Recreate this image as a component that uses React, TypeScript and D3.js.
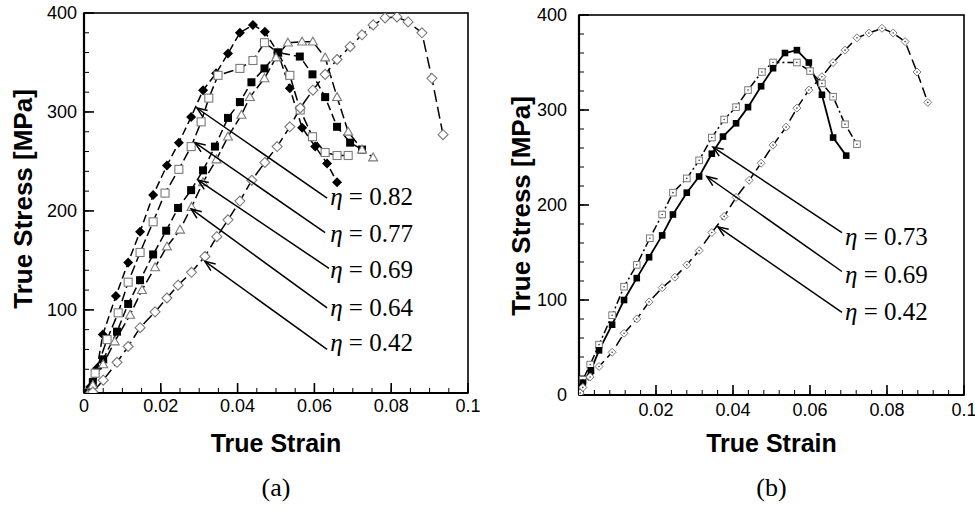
import React from 'react';
import * as d3 from 'd3';

type P = [number, number];

// ---------- Panel (a) data: [true strain, true stress MPa] ----------
const a082: P[] = [[0.001,16],[0.0016,22],[0.0034,41],[0.0049,75],[0.0083,114],[0.0115,148],[0.0146,179],[0.018,216],[0.0216,246],[0.0247,269],[0.0279,295],[0.031,322],[0.0344,339],[0.0375,359],[0.0406,380],[0.044,388],[0.0471,381],[0.0505,360],[0.0536,324],[0.0568,284],[0.0602,265],[0.0633,248],[0.0659,229]];
const a077: P[] = [[0.001,16],[0.0029,36],[0.006,70],[0.0089,97],[0.0115,128],[0.0146,158],[0.018,189],[0.0211,218],[0.0247,242],[0.0279,265],[0.0305,290],[0.0325,314],[0.0349,337],[0.0406,344],[0.044,352],[0.047,370],[0.0505,360],[0.0536,337],[0.0563,302],[0.0595,275],[0.0628,259],[0.0659,256],[0.0688,256]];
const a069: P[] = [[0.001,16],[0.0023,27],[0.005,50],[0.0086,78],[0.0115,106],[0.0146,130],[0.018,156],[0.0214,180],[0.0245,203],[0.0279,221],[0.031,241],[0.0341,265],[0.0375,294],[0.0406,310],[0.0436,330],[0.047,344],[0.0505,360],[0.0562,356],[0.0595,338],[0.0628,315],[0.0659,285],[0.0693,269],[0.0724,262]];
const a064: P[] = [[0.001,15],[0.0023,24],[0.005,45],[0.008,68],[0.012,95],[0.0151,120],[0.0185,143],[0.0216,164],[0.025,181],[0.028,204],[0.031,229],[0.0345,252],[0.0375,275],[0.041,297],[0.0432,315],[0.047,334],[0.05,355],[0.0531,370],[0.0568,371],[0.0596,371],[0.0628,355],[0.0659,315],[0.0688,280],[0.0724,262],[0.0753,254]];
const a042: P[] = [[0.0023,17],[0.005,29],[0.0086,47],[0.0115,63],[0.0146,82],[0.0185,98],[0.0216,112],[0.0245,125],[0.028,138],[0.0315,154],[0.0346,174],[0.0375,191],[0.0406,210],[0.0437,231],[0.0471,249],[0.0503,265],[0.0536,285],[0.0563,304],[0.0596,322],[0.0628,338],[0.0659,353],[0.0693,366],[0.0724,378],[0.0753,388],[0.0784,395],[0.0815,396],[0.0844,391],[0.088,380],[0.0906,334],[0.0935,277]];

const leftEta = ['0.82', '0.77', '0.69', '0.64', '0.42'];
const leftTips: P[] = [[0.0294,304],[0.0289,269],[0.0297,231],[0.0279,202],[0.0315,149]];
const leftEnds: P[] = [[0.0633,213],[0.0628,178],[0.0638,142],[0.0633,102],[0.0633,60]];
const leftLabelStress = [206, 169, 132, 94, 58];
const leftLabelStrain = 0.0641;

// ---------- Panel (b) data ----------
const b073: P[] = [[0.0003,3],[0.001,16],[0.0029,32],[0.0052,53],[0.0086,84],[0.0117,114],[0.015,137],[0.0184,165],[0.0216,190],[0.0244,213],[0.028,228],[0.0312,247],[0.0345,271],[0.0377,290],[0.0408,303],[0.0439,321],[0.0475,340],[0.0504,350],[0.0566,350],[0.06,341],[0.0631,328],[0.066,314],[0.0691,285],[0.0722,264]];
const b069: P[] = [[0.0003,3],[0.001,13],[0.0031,26],[0.0052,47],[0.0086,74],[0.0117,100],[0.015,123],[0.0182,145],[0.0216,168],[0.0244,190],[0.028,213],[0.0312,230],[0.0345,254],[0.0374,272],[0.0408,286],[0.0439,303],[0.0473,325],[0.0504,344],[0.0535,360],[0.0566,363],[0.0597,350],[0.0631,316],[0.066,271],[0.0694,252]];
const b042: P[] = [[0.0003,2],[0.001,8],[0.0029,19],[0.0052,30],[0.0086,45],[0.0117,65],[0.015,80],[0.0182,98],[0.0216,113],[0.0249,124],[0.028,137],[0.0312,152],[0.0345,171],[0.0377,188],[0.0408,208],[0.0442,226],[0.0473,244],[0.0504,263],[0.0538,282],[0.0566,302],[0.0597,321],[0.0631,335],[0.066,350],[0.0691,363],[0.0722,376],[0.0753,381],[0.0787,386],[0.0816,381],[0.0847,372],[0.0878,340],[0.0906,308]];

const rightEta = ['0.73', '0.69', '0.42'];
const rightTips: P[] = [[0.0348,261],[0.0332,230],[0.0361,177]];
const rightEnds: P[] = [[0.0683,171],[0.0683,130],[0.0683,87]];
const rightLabelStress = [158, 118, 79];
const rightLabelStrain = 0.0691;

const xTicksLeft = [0, 0.02, 0.04, 0.06, 0.08, 0.1];
const xTicksRight = [0.02, 0.04, 0.06, 0.08, 0.1];
const yTicksLeft = [100, 200, 300, 400];
const yTicksRight = [0, 100, 200, 300, 400];

type Marker = 'fdiamond' | 'odiamond' | 'fsquare' | 'osquare' | 'otriangle' | 'dsquare' | 'ddiamond';

interface Series { data: P[]; marker: Marker; dash: string; size: number; }

function markerEl(m: Marker, x: number, y: number, r: number, key: string | number) {
  const gray = '#7a7a7a';
  if (m === 'fdiamond') return <path key={key} d={`M${x},${y - r}L${x + r},${y}L${x},${y + r}L${x - r},${y}Z`} fill="#000" />;
  if (m === 'odiamond') return <path key={key} d={`M${x},${y - r}L${x + r},${y}L${x},${y + r}L${x - r},${y}Z`} fill="#fff" stroke={gray} strokeWidth={1.1} />;
  if (m === 'ddiamond') return <g key={key}><path d={`M${x},${y - r}L${x + r},${y}L${x},${y + r}L${x - r},${y}Z`} fill="#fff" stroke={gray} strokeWidth={1} /><circle cx={x} cy={y} r={0.8} fill="#333" /></g>;
  if (m === 'fsquare') return <rect key={key} x={x - r} y={y - r} width={2 * r} height={2 * r} fill="#000" />;
  if (m === 'osquare') return <rect key={key} x={x - r} y={y - r} width={2 * r} height={2 * r} fill="#fff" stroke={gray} strokeWidth={1.1} />;
  if (m === 'dsquare') return <g key={key}><rect x={x - r} y={y - r} width={2 * r} height={2 * r} fill="#fff" stroke={gray} strokeWidth={1} /><circle cx={x} cy={y} r={0.8} fill="#333" /></g>;
  return <path key={key} d={`M${x},${y - r}L${x + r},${y + r * 0.75}L${x - r},${y + r * 0.75}Z`} fill="#fff" stroke={gray} strokeWidth={1.1} />;
}

interface PanelProps {
  x0: number; x1: number; yTop: number; yBot: number; yMin: number;
  series: Series[]; xTicks: number[]; yTicks: number[]; xMinorStep: number;
  tips: P[]; ends: P[]; labelStress: number[]; labelStrain: number; eta: string[];
  yTitleX: number; yTitleY: number; cap: string; xLabelGap: number; yLabelGap: number;
  lineWidth: number[];
}

function Panel(p: PanelProps) {
  const x = d3.scaleLinear().domain([0, 0.1]).range([p.x0, p.x1]);
  const y = d3.scaleLinear().domain([p.yMin, 400]).range([p.yBot, p.yTop]);
  const line = d3.line<P>().x(d => x(d[0])).y(d => y(d[1]));
  const xMinor = d3.range(0, 0.1 + 1e-9, p.xMinorStep);
  const yMinor = d3.range(Math.ceil(p.yMin / 20) * 20, 401, 20);
  const cx = (p.x0 + p.x1) / 2;
  return (
    <g>
      <defs>
        <clipPath id={`clip${p.x0}`}><rect x={p.x0} y={p.yTop} width={p.x1 - p.x0} height={p.yBot - p.yTop} /></clipPath>
      </defs>
      {/* frame */}
      <rect x={p.x0} y={p.yTop} width={p.x1 - p.x0} height={p.yBot - p.yTop} fill="none" stroke="#000" strokeWidth={1.6} />
      <line x1={p.x0} x2={p.x0} y1={p.yTop} y2={p.yBot} stroke="#000" strokeWidth={2.2} />
      <line x1={p.x0} x2={p.x1} y1={p.yBot} y2={p.yBot} stroke="#000" strokeWidth={2.2} />
      {/* minor ticks */}
      {xMinor.map((t, i) => <line key={'xm' + i} x1={x(t)} x2={x(t)} y1={p.yBot} y2={p.yBot - 5} stroke="#000" strokeWidth={1} />)}
      {yMinor.map((t, i) => <line key={'ym' + i} x1={p.x0} x2={p.x0 + 5} y1={y(t)} y2={y(t)} stroke="#000" strokeWidth={1} />)}
      {/* major ticks */}
      {[0, 0.02, 0.04, 0.06, 0.08, 0.1].map((t, i) => <line key={'xM' + i} x1={x(t)} x2={x(t)} y1={p.yBot} y2={p.yBot - 10} stroke="#000" strokeWidth={1.6} />)}
      {[0, 100, 200, 300, 400].filter(t => t >= p.yMin).map((t, i) => <line key={'yM' + i} x1={p.x0} x2={p.x0 + 10} y1={y(t)} y2={y(t)} stroke="#000" strokeWidth={1.6} />)}
      {/* tick labels */}
      {p.xTicks.map((t, i) => (
        <text key={'xl' + i} x={x(t)} y={p.yBot + p.xLabelGap} textAnchor="middle" fontFamily="'Liberation Sans', Arial, sans-serif" fontSize={18} fill="#000">{t === 0 ? '0' : String(+t.toFixed(2))}</text>
      ))}
      {p.yTicks.map((t, i) => (
        <text key={'yl' + i} x={p.x0 - p.yLabelGap} y={y(t)} dy="0.35em" textAnchor="end" fontFamily="'Liberation Sans', Arial, sans-serif" fontSize={18} fill="#000">{t}</text>
      ))}
      {/* axis titles */}
      <text x={cx} y={452} textAnchor="middle" fontFamily="'Liberation Sans', Arial, sans-serif" fontWeight="bold" fontSize={25} fill="#000">True Strain</text>
      <text transform={`translate(${p.yTitleX},${p.yTitleY}) rotate(-90)`} textAnchor="middle" fontFamily="'Liberation Sans', Arial, sans-serif" fontWeight="bold" fontSize={26} fill="#000">True Stress [MPa]</text>
      <text x={cx} y={496} textAnchor="middle" fontFamily="'Liberation Serif', 'Times New Roman', serif" fontSize={26} fill="#000">{p.cap}</text>
      {/* curves */}
      <g clipPath={`url(#clip${p.x0})`}>
        {p.series.map((s, i) => (
          <path key={'l' + i} d={line(s.data) || ''} fill="none" stroke="#000" strokeWidth={p.lineWidth[i]} strokeDasharray={s.dash} />
        ))}
        {p.series.map((s, i) => (
          <g key={'m' + i}>{s.data.map((d, j) => markerEl(s.marker, x(d[0]), y(d[1]), s.size, j))}</g>
        ))}
      </g>
      {/* annotations */}
      {p.tips.map((t, i) => {
        const tx = x(t[0]), ty = y(t[1]);
        const ex = x(p.ends[i][0]), ey = y(p.ends[i][1]);
        const ang = Math.atan2(ey - ty, ex - tx);
        const L = 11, w = 0.38;
        const a1x = tx + L * Math.cos(ang + w), a1y = ty + L * Math.sin(ang + w);
        const a2x = tx + L * Math.cos(ang - w), a2y = ty + L * Math.sin(ang - w);
        return (
          <g key={'a' + i}>
            <line x1={ex} y1={ey} x2={tx} y2={ty} stroke="#000" strokeWidth={1.5} />
            <path d={`M${a1x},${a1y}L${tx},${ty}L${a2x},${a2y}`} fill="none" stroke="#000" strokeWidth={1.5} />
            <text x={x(p.labelStrain)} y={y(p.labelStress[i])} fontFamily="'Liberation Serif', 'Times New Roman', serif" fontSize={25} fill="#000">
              <tspan fontStyle="italic">η</tspan> = {p.eta[i]}
            </text>
          </g>
        );
      })}
    </g>
  );
}

export default function App() {
  const leftSeries: Series[] = [
    { data: a082, marker: 'fdiamond', dash: '8 4', size: 5 },
    { data: a077, marker: 'osquare', dash: '10 4', size: 4 },
    { data: a069, marker: 'fsquare', dash: '8 4', size: 4 },
    { data: a064, marker: 'otriangle', dash: '10 4', size: 4.5 },
    { data: a042, marker: 'odiamond', dash: '12 5', size: 5 },
  ];
  const rightSeries: Series[] = [
    { data: b073, marker: 'dsquare', dash: '8 3 2 3', size: 3.3 },
    { data: b069, marker: 'fsquare', dash: '', size: 3.3 },
    { data: b042, marker: 'ddiamond', dash: '10 5', size: 4 },
  ];
  return (
    <svg width={975} height={510} style={{ position: 'absolute', left: 0, top: 0, background: '#fff' }}>
      <rect x={0} y={0} width={975} height={510} fill="#fff" />
      <Panel x0={84} x1={468} yTop={13} yBot={393} yMin={16} series={leftSeries}
        xTicks={xTicksLeft} yTicks={yTicksLeft} xMinorStep={0.005}
        tips={leftTips} ends={leftEnds} labelStress={leftLabelStress} labelStrain={leftLabelStrain} eta={leftEta}
        yTitleX={32} yTitleY={199} cap="(a)" xLabelGap={19} yLabelGap={7} lineWidth={[1.5, 1.5, 1.5, 1.5, 1.5]} />
      <Panel x0={579} x1={964} yTop={15} yBot={395} yMin={0} series={rightSeries}
        xTicks={xTicksRight} yTicks={yTicksRight} xMinorStep={0.004}
        tips={rightTips} ends={rightEnds} labelStress={rightLabelStress} labelStrain={rightLabelStrain} eta={rightEta}
        yTitleX={530} yTitleY={206} cap="(b)" xLabelGap={21} yLabelGap={12} lineWidth={[1.5, 1.8, 1.5]} />
    </svg>
  );
}
